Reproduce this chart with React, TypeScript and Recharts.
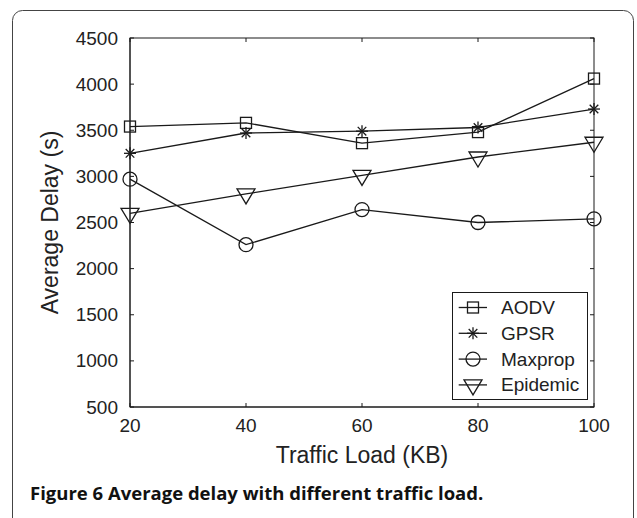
import { Legend, Line, LineChart, XAxis, YAxis } from 'recharts';

const loads = [20, 40, 60, 80, 100];
const aodv = [3540, 3580, 3360, 3480, 4060];
const gpsr = [3250, 3470, 3490, 3530, 3730];
const maxprop = [2970, 2260, 2640, 2500, 2540];
const epidemic = [2600, 2810, 3010, 3210, 3370];

const xTicks = [20, 40, 60, 80, 100];
const yTicks = [500, 1000, 1500, 2000, 2500, 3000, 3500, 4000, 4500];

const seriesNames = ['AODV', 'GPSR', 'Maxprop', 'Epidemic'];
const markerKinds = ['square', 'star', 'circle', 'triangle'];

const data = loads.map((load, i) => ({
  load,
  AODV: aodv[i],
  GPSR: gpsr[i],
  Maxprop: maxprop[i],
  Epidemic: epidemic[i],
}));

const INK = '#1a1a1a';
const FONT = '"Liberation Sans", Arial, Helvetica, sans-serif';

const CHART_W = 637;
const CHART_H = 518;
const MARGIN = { top: 38, right: 43, left: 0, bottom: 51 };
const Y_AXIS_W = 130;
const X_AXIS_H = 60;
const PLOT_LEFT = MARGIN.left + Y_AXIS_W;
const PLOT_TOP = MARGIN.top;
const PLOT_RIGHT = CHART_W - MARGIN.right;
const PLOT_BOTTOM = CHART_H - MARGIN.bottom - X_AXIS_H;

function Marker({ kind, cx, cy }: { kind: string; cx: number; cy: number }) {
  const common = { stroke: INK, strokeWidth: 1.3, fill: 'none' };
  if (kind === 'square') {
    return <rect x={cx - 5.5} y={cy - 5.5} width={11} height={11} {...common} />;
  }
  if (kind === 'circle') {
    return <circle cx={cx} cy={cy} r={7} {...common} />;
  }
  if (kind === 'triangle') {
    return (
      <polygon
        points={`${cx - 9},${cy - 5} ${cx + 9},${cy - 5} ${cx},${cy + 10}`}
        {...common}
      />
    );
  }
  // asterisk: plus and cross
  const d = 4.3;
  return (
    <g {...common}>
      <line x1={cx} y1={cy - 6} x2={cx} y2={cy + 6} />
      <line x1={cx - 6} y1={cy} x2={cx + 6} y2={cy} />
      <line x1={cx - d} y1={cy - d} x2={cx + d} y2={cy + d} />
      <line x1={cx - d} y1={cy + d} x2={cx + d} y2={cy - d} />
    </g>
  );
}

// left ticks also draw the mirrored inward ticks on the right edge
const LeftTick = (p: any) => (
  <g>
    <line x1={p.x} x2={p.x + 4} y1={p.y} y2={p.y} stroke={INK} />
    <line x1={PLOT_RIGHT} x2={PLOT_RIGHT - 4} y1={p.y} y2={p.y} stroke={INK} />
    <text
      x={p.x - 12}
      y={p.y}
      textAnchor="end"
      dominantBaseline="central"
      fontFamily={FONT}
      fontSize={19}
      fill="#222"
    >
      {p.payload.value}
    </text>
  </g>
);

// bottom ticks also draw the mirrored inward ticks on the top edge
const BottomTick = (p: any) => (
  <g>
    <line x1={p.x} x2={p.x} y1={p.y} y2={p.y - 4} stroke={INK} />
    <line x1={p.x} x2={p.x} y1={PLOT_TOP} y2={PLOT_TOP + 4} stroke={INK} />
    <text
      x={p.x}
      y={p.y + 18.5}
      textAnchor="middle"
      dominantBaseline="central"
      fontFamily={FONT}
      fontSize={19}
      fill="#222"
    >
      {p.payload.value}
    </text>
  </g>
);

const YTitle = ({ viewBox }: any) => {
  const x = viewBox.x + 50;
  const y = viewBox.y + viewBox.height / 2;
  return (
    <text
      x={x}
      y={y}
      transform={`rotate(-90 ${x} ${y})`}
      textAnchor="middle"
      dominantBaseline="central"
      fontFamily={FONT}
      fontSize={23}
      fill="#222"
    >
      Average Delay (s)
    </text>
  );
};

const XTitle = ({ viewBox }: any) => (
  <text
    x={viewBox.x + viewBox.width / 2}
    y={viewBox.y + 47.5}
    textAnchor="middle"
    dominantBaseline="central"
    fontFamily={FONT}
    fontSize={23}
    fill="#222"
  >
    Traffic Load (KB)
  </text>
);

function LegendBox() {
  return (
    <svg width={136} height={108} style={{ display: 'block' }}>
      <rect x={0.5} y={0.5} width={135} height={107} fill="#fff" stroke={INK} />
      {seriesNames.map((name, i) => {
        const y = 15.5 + i * 25.8;
        return (
          <g key={name}>
            <line x1={6.7} x2={35} y1={y} y2={y} stroke={INK} strokeWidth={1.3} />
            <Marker kind={markerKinds[i]} cx={21} cy={y} />
            <text
              x={49}
              y={y}
              dominantBaseline="central"
              fontFamily={FONT}
              fontSize={19}
              fill="#222"
            >
              {name}
            </text>
          </g>
        );
      })}
    </svg>
  );
}

export default function App() {
  return (
    <div
      style={{
        position: 'absolute',
        left: 0,
        top: 0,
        width: CHART_W,
        height: CHART_H,
        overflow: 'hidden',
        background: '#fff',
      }}
    >
      <svg
        width={CHART_W}
        height={CHART_H}
        style={{ position: 'absolute', left: 0, top: 0 }}
      >
        <rect
          x={12.5}
          y={10.5}
          width={621}
          height={540}
          rx={10}
          fill="none"
          stroke="#444"
        />
        {/* plot box */}
        <rect
          x={PLOT_LEFT}
          y={PLOT_TOP}
          width={PLOT_RIGHT - PLOT_LEFT}
          height={PLOT_BOTTOM - PLOT_TOP}
          fill="none"
          stroke={INK}
        />
        <text
          x={30}
          y={499.5}
          fontFamily='"Open Sans", "Noto Sans", sans-serif'
          fontWeight={700}
          fontSize={18.5}
          fill="#111"
        >
          Figure 6 Average delay with different traffic load.
        </text>
      </svg>
      <div style={{ position: 'absolute', left: 0, top: 0 }}>
        <LineChart width={CHART_W} height={CHART_H} data={data} margin={MARGIN}>
          <XAxis
            dataKey="load"
            type="number"
            domain={[20, 100]}
            ticks={xTicks}
            height={X_AXIS_H}
            tickSize={0}
            tickMargin={0}
            tickLine={false}
            tick={BottomTick}
            axisLine={{ stroke: INK }}
            label={<XTitle />}
          />
          <YAxis
            type="number"
            domain={[500, 4500]}
            ticks={yTicks}
            width={Y_AXIS_W}
            tickSize={0}
            tickMargin={0}
            tickLine={false}
            tick={LeftTick}
            axisLine={{ stroke: INK }}
            label={<YTitle />}
          />
          {seriesNames.map((name, i) => (
            <Line
              key={name}
              dataKey={name}
              name={name}
              type="linear"
              stroke={INK}
              strokeWidth={1.3}
              isAnimationActive={false}
              activeDot={false}
              dot={(p: any) => (
                <Marker
                  key={`${name}-${p.index}`}
                  kind={markerKinds[i]}
                  cx={p.cx}
                  cy={p.cy}
                />
              )}
            />
          ))}
          <Legend
            layout="vertical"
            align="center"
            verticalAlign="middle"
            wrapperStyle={{ left: 452, top: 292, width: 136 }}
            content={() => <LegendBox />}
          />
        </LineChart>
      </div>
    </div>
  );
}
